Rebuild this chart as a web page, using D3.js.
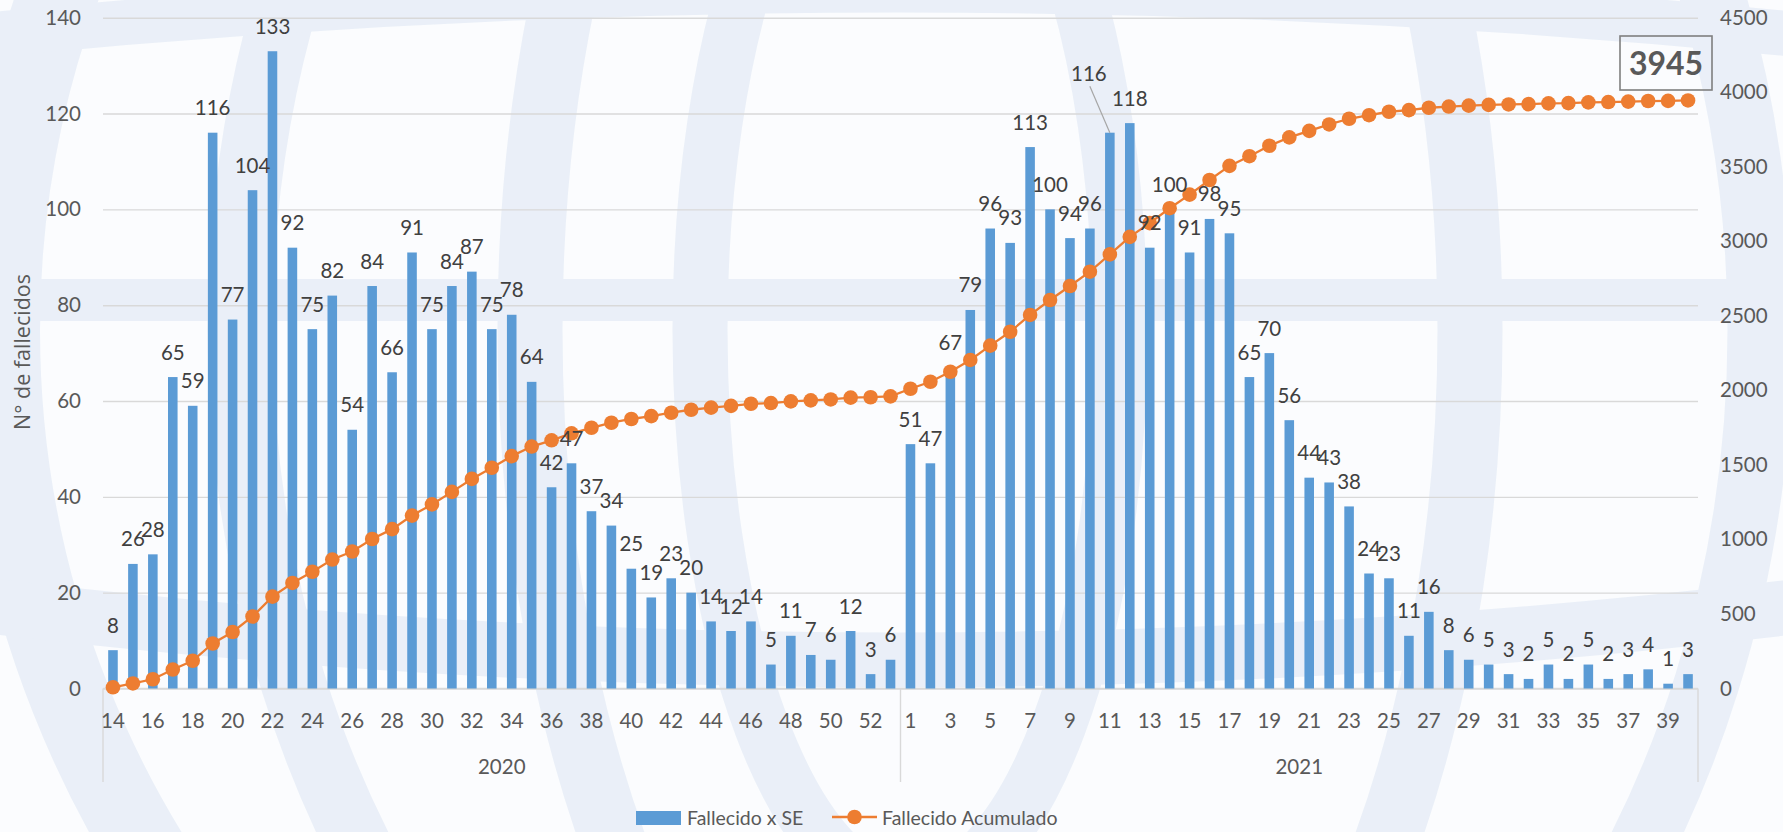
<!DOCTYPE html>
<html>
<head>
<meta charset="utf-8">
<script src="https://cdn.jsdelivr.net/npm/d3@7"></script>
<style>
  html, body { margin: 0; padding: 0; background: #fbfcfe; }
  svg { display: block; }
  text { font-family: Lato, "Open Sans", sans-serif; }
</style>
</head>
<body>
<svg id="chart" width="1783" height="832"></svg>
<script>
// Epidemiological weeks (SE) per year
const weeks2020 = [14,15,16,17,18,19,20,21,22,23,24,25,26,27,28,29,30,31,32,33,
                   34,35,36,37,38,39,40,41,42,43,44,45,46,47,48,49,50,51,52,53];
const weeks2021 = [1,2,3,4,5,6,7,8,9,10,11,12,13,14,15,16,17,18,19,20,
                   21,22,23,24,25,26,27,28,29,30,31,32,33,34,35,36,37,38,39,40];
const years = ["2020", "2021"];

// Deaths per epidemiological week
const deaths2020 = [8,26,28,65,59,116,77,104,133,92,75,82,54,84,66,91,75,84,87,75,
                    78,64,42,47,37,34,25,19,23,20,14,12,14,5,11,7,6,12,3,6];
const deaths2021 = [51,47,67,79,96,93,113,100,94,96,116,118,92,100,91,98,95,65,70,56,
                    44,43,38,24,23,11,16,8,6,5,3,2,5,2,5,2,3,4,1,3];

// Accumulated deaths
const accumulated = [8,34,62,127,186,302,379,483,616,708,783,865,919,1003,1069,1160,1235,1319,1406,1481,
                     1559,1623,1665,1712,1749,1783,1808,1827,1850,1870,1884,1896,1910,1915,1926,1933,1939,1951,1954,1960,
                     2011,2058,2125,2204,2300,2393,2506,2606,2700,2796,2912,3030,3122,3222,3313,3411,3506,3571,3641,3697,
                     3741,3784,3822,3846,3869,3880,3896,3904,3910,3915,3918,3920,3925,3927,3932,3934,3937,3941,3942,3945];

const leftTicks = [0,20,40,60,80,100,120,140];
const rightTicks = [0,500,1000,1500,2000,2500,3000,3500,4000,4500];
const totalLabel = "3945";

const rows = [
  ...weeks2020.map((w, i) => ({ year: years[0], week: w, deaths: deaths2020[i] })),
  ...weeks2021.map((w, i) => ({ year: years[1], week: w, deaths: deaths2021[i] }))
].map((d, i) => ({ ...d, idx: i, acc: accumulated[i] }));

const svg = d3.select("#chart");
const W = 1783, H = 832;
const plotLeft = 103, plotRight = 1698, plotTop = 17.7, plotBottom = 688.5;

const textDark = "#404040", textAxis = "#595959", gridCol = "#d9d9d9";
const barCol = "#5b9bd5", lineCol = "#ed7d31";
const fs = "20.5px";

// Faint globe emblem behind the chart
const wm = svg.append("g").attr("fill", "none").attr("stroke", "#e6edf7").attr("opacity", 0.8);
wm.append("rect").attr("x", 0).attr("y", 0).attr("width", W).attr("height", H).attr("fill", "#fbfcfe").attr("stroke", "none");
const gx = 1000, gy = 330;
wm.append("circle").attr("cx", gx).attr("cy", gy).attr("r", 1000).attr("stroke-width", 80);
wm.append("ellipse").attr("cx", gx).attr("cy", gy).attr("rx", 470).attr("ry", 900).attr("stroke-width", 65);
wm.append("ellipse").attr("cx", gx).attr("cy", gy).attr("rx", 760).attr("ry", 960).attr("stroke-width", 65);
wm.append("ellipse").attr("cx", gx - 90).attr("cy", gy).attr("rx", 210).attr("ry", 560).attr("stroke-width", 55);
wm.append("line").attr("x1", 0).attr("x2", W).attr("y1", 300).attr("y2", 300).attr("stroke-width", 42);
wm.append("path").attr("d", "M -60 40 Q 900 -60 1850 40").attr("stroke-width", 45);
wm.append("path").attr("d", "M -60 600 Q 900 720 1850 600").attr("stroke-width", 55);

// Scales
const x = d3.scaleBand()
  .domain(rows.map(d => d.idx))
  .range([plotLeft, plotRight])
  .paddingInner(0.52)
  .paddingOuter(0.26);
const yL = d3.scaleLinear().domain([0, 140]).range([plotBottom, plotTop]);
const yR = d3.scaleLinear().domain([0, 4500]).range([plotBottom, plotTop]);
const cx = i => x(i) + x.bandwidth() / 2;

// Gridlines + left axis
const gLeft = svg.append("g").attr("transform", `translate(${plotLeft},0)`)
  .call(d3.axisLeft(yL).tickValues(leftTicks).tickSize(-(plotRight - plotLeft)).tickPadding(22));
gLeft.select(".domain").remove();
gLeft.selectAll("line").attr("stroke", gridCol).attr("stroke-width", 1.4);
gLeft.selectAll("text").attr("fill", textAxis).style("font-size", fs);

// Right axis
const gRight = svg.append("g").attr("transform", `translate(${plotRight},0)`)
  .call(d3.axisRight(yR).tickValues(rightTicks).tickFormat(d3.format("d")).tickSize(0).tickPadding(22));
gRight.select(".domain").remove();
gRight.selectAll("text").attr("fill", textAxis).style("font-size", fs);

// Category axis: baseline, group separators, weeks, years
svg.append("line").attr("x1", plotLeft).attr("x2", plotRight).attr("y1", plotBottom).attr("y2", plotBottom)
  .attr("stroke", gridCol).attr("stroke-width", 1.4);
svg.selectAll(".sep").data([plotLeft, (cx(39) + cx(40)) / 2, plotRight]).join("line")
  .attr("class", "sep")
  .attr("x1", d => d).attr("x2", d => d).attr("y1", plotBottom).attr("y2", 782)
  .attr("stroke", gridCol).attr("stroke-width", 1.4);

const gX = svg.append("g").attr("transform", `translate(0,${plotBottom})`)
  .call(d3.axisBottom(x)
    .tickValues(rows.filter(d => d.idx % 2 === 0).map(d => d.idx))
    .tickFormat(i => rows[i].week)
    .tickSize(0).tickPadding(25));
gX.select(".domain").remove();
gX.selectAll("text").attr("fill", textAxis).style("font-size", fs);

years.forEach(yr => {
  const grp = rows.filter(d => d.year === yr);
  const first = grp[0].idx, last = grp[grp.length - 1].idx;
  const x0 = first === 0 ? plotLeft : (cx(first - 1) + cx(first)) / 2;
  const x1 = last === rows.length - 1 ? plotRight : (cx(last) + cx(last + 1)) / 2;
  svg.append("text").attr("x", (x0 + x1) / 2).attr("y", 774)
    .attr("text-anchor", "middle").attr("fill", textAxis).style("font-size", fs).text(yr);
});

// Y axis title
svg.append("text").attr("transform", "translate(30,352) rotate(-90)")
  .attr("text-anchor", "middle").attr("fill", textAxis)
  .style("font-family", "'Open Sans', sans-serif").style("font-size", "21.5px")
  .text("N° de fallecidos");

// Weekly bars
svg.append("g").selectAll("rect").data(rows).join("rect")
  .attr("x", d => x(d.idx)).attr("width", x.bandwidth())
  .attr("y", d => yL(d.deaths)).attr("height", d => plotBottom - yL(d.deaths))
  .attr("fill", barCol);

// Accumulated line with markers
svg.append("path").datum(rows)
  .attr("fill", "none").attr("stroke", lineCol).attr("stroke-width", 2.3)
  .attr("d", d3.line().x(d => cx(d.idx)).y(d => yR(d.acc)));
svg.append("g").selectAll("circle").data(rows).join("circle")
  .attr("cx", d => cx(d.idx)).attr("cy", d => yR(d.acc)).attr("r", 7.3)
  .attr("fill", lineCol);

// Bar value labels (one label lifted with a leader line)
const labelNudge = { 50: { dx: -21, dy: -34 } };
const labels = svg.append("g");
rows.forEach(d => {
  const n = labelNudge[d.idx] || { dx: 0, dy: 0 };
  const lx = cx(d.idx) + n.dx, ly = yL(d.deaths) - 17.5 + n.dy;
  if (labelNudge[d.idx]) {
    labels.append("line").attr("x1", lx + 1).attr("y1", ly + 5)
      .attr("x2", cx(d.idx)).attr("y2", yL(d.deaths))
      .attr("stroke", "#a6a6a6").attr("stroke-width", 1.2);
  }
  labels.append("text").attr("x", lx).attr("y", ly)
    .attr("text-anchor", "middle").attr("fill", textDark).style("font-size", fs)
    .text(d.deaths);
});

// Total callout
svg.append("rect").attr("x", 1620).attr("y", 36).attr("width", 92).attr("height", 54)
  .attr("fill", "none").attr("stroke", "#7f7f7f").attr("stroke-width", 1.6);
svg.append("text").attr("x", 1666).attr("y", 75).attr("text-anchor", "middle")
  .attr("fill", textAxis).style("font-size", "32px").style("font-weight", "bold").text(totalLabel);

// Legend
const lg = svg.append("g");
lg.append("rect").attr("x", 636).attr("y", 811).attr("width", 45).attr("height", 14).attr("fill", barCol);
lg.append("text").attr("x", 687).attr("y", 825).attr("fill", textAxis).style("font-size", "19.5px").text("Fallecido x SE");
lg.append("line").attr("x1", 832).attr("x2", 877).attr("y1", 817).attr("y2", 817)
  .attr("stroke", lineCol).attr("stroke-width", 2.3);
lg.append("circle").attr("cx", 854.5).attr("cy", 817).attr("r", 7.3).attr("fill", lineCol);
lg.append("text").attr("x", 882).attr("y", 825).attr("fill", textAxis).style("font-size", "19.5px").text("Fallecido Acumulado");
</script>
</body>
</html>
